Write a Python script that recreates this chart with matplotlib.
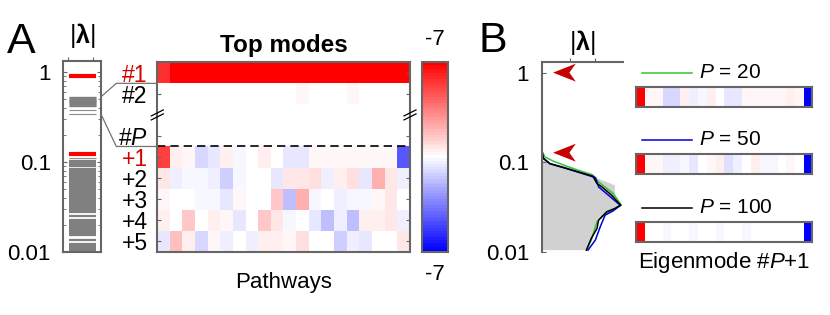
import numpy as np
import matplotlib
matplotlib.use("Agg")
import matplotlib.pyplot as plt
from matplotlib.colors import LinearSegmentedColormap
from matplotlib.lines import Line2D
from matplotlib.patches import Polygon

plt.rcParams['font.family'] = ['Liberation Sans', 'DejaVu Sans']
plt.rcParams['mathtext.fontset'] = 'custom'
plt.rcParams['mathtext.rm'] = 'Liberation Sans'
plt.rcParams['mathtext.it'] = 'Liberation Sans:italic'
plt.rcParams['mathtext.bf'] = 'Liberation Sans:bold'

# ---------------- data ----------------
# Panel A spectrum |lambda|
lam_red = [0.9, 0.123]
lam_cluster = [0.53, 0.515, 0.50, 0.49, 0.48, 0.47, 0.46, 0.45, 0.44, 0.43, 0.42]
lam_mid = [0.38, 0.34, 0.11]
lam_bulk = [0.102, 0.0984, 0.0946, 0.0910, 0.0832, 0.0800, 0.0769, 0.0740, 0.0711,
            0.0684, 0.0658, 0.0632, 0.0608, 0.0585, 0.0562, 0.0541, 0.0520, 0.0500,
            0.0481, 0.0462, 0.0445, 0.0428, 0.0411, 0.0395, 0.0380, 0.0366, 0.0352,
            0.0338, 0.0325, 0.0313, 0.0301, 0.0289, 0.0278, 0.0253, 0.0229, 0.0220,
            0.0212, 0.0204, 0.0196, 0.0188, 0.0181, 0.0174, 0.0167, 0.0161, 0.0155,
            0.0137, 0.0123, 0.0118, 0.0114, 0.0109, 0.0105]

# Panel A heatmap rows (normalised eigenvector entries, 20 pathways)
mode_1 = [0.80, 1, 1, 1, 1, 1, 1, 1, 1, 1, 1, 1, 1, 1, 1, 1, 1, 1, 1, 1]
mode_2 = [0.01, 0.0, 0.0, 0.01, 0.01, 0.0, 0.0, 0.01, 0.0, 0.0,
          0.01, 0.04, 0.0, 0.0, 0.01, 0.03, 0.0, 0.0, 0.01, 0.0]
mode_P = [0.01, 0.0, 0.0, 0.0, 0.01, 0.0, 0.0, 0.01, 0.0, 0.0,
          0.01, 0.0, 0.0, 0.01, 0.0, 0.0, 0.0, 0.01, 0.0, 0.01]
mode_p1 = [0.73, 0.05, 0.02, -0.15, -0.08, 0.06, -0.03, -0.01, 0.06, 0.0,
           -0.10, -0.08, 0.03, 0.03, 0.02, 0.02, 0.02, 0.02, 0.02, -0.65]
mode_p2 = [0.10, -0.06, -0.03, -0.02, -0.05, -0.18, -0.03, -0.01, 0.0, -0.08,
           0.10, 0.08, 0.12, -0.06, 0.05, 0.12, -0.08, 0.30, 0.10, -0.06]
mode_p3 = [0.02, -0.01, -0.01, -0.02, -0.04, -0.10, 0.04, -0.01, 0.0, 0.22,
           -0.25, 0.30, -0.04, -0.01, -0.07, -0.02, -0.02, 0.02, 0.08, 0.0]
mode_p4 = [0.07, 0.0, 0.22, 0.0, 0.07, 0.04, -0.08, -0.01, 0.22, 0.10,
           -0.04, 0.0, -0.08, -0.25, -0.06, -0.25, 0.05, 0.05, 0.08, -0.06]
mode_p5 = [-0.10, 0.25, 0.07, -0.15, 0.02, -0.05, 0.0, -0.06, 0.05, 0.05,
           0.04, 0.13, 0.0, 0.0, -0.20, -0.07, -0.10, 0.0, 0.0, 0.08]
row_labels = ['#1', '#2', '', '#$P$', '+1', '+2', '+3', '+4', '+5']
row_colors = ['#d40000', 'k', 'k', 'k', '#d40000', 'k', 'k', 'k', 'k']
cbar_labels = ['-7', '-7']

# Panel B: density of |lambda| for P = 20, 50, 100
curve20_x = [0, 0, 0.04, 0.14, 0.31, 0.63, 0.70, 0.88, 0.98, 0.84, 0.74, 0.68, 0.61, 0.55]
curve20_y = [1.33, 0.136, 0.1146, 0.1033, 0.0903, 0.0717, 0.0604, 0.0449, 0.0333,
             0.0281, 0.0247, 0.0217, 0.0136, 0.0105]
curve50_x = [0, 0, 0.02, 0.10, 0.27, 0.66, 0.70, 0.94, 0.97, 0.88, 0.78, 0.72, 0.66, 0.57]
curve50_y = [1.33, 0.136, 0.112, 0.0967, 0.0873, 0.0676, 0.0532, 0.0348, 0.0333,
             0.0288, 0.0258, 0.0191, 0.0136, 0.0105]
curve100_x = [0, 0, 0.02, 0.10, 0.27, 0.63, 0.68, 0.74, 0.86, 0.97, 0.90, 0.80, 0.70,
              0.68, 0.61, 0.55]
curve100_y = [1.33, 0.136, 0.110, 0.0967, 0.0873, 0.0699, 0.058, 0.0532, 0.043, 0.0333,
              0.0306, 0.0281, 0.0227, 0.0183, 0.0142, 0.0105]
null_x = [0, 0.225, 0.62, 0.68, 0.90, 0.90, 0.96, 0.865, 0.70, 0.62, 0.545, 0]
null_y = [0.105, 0.0926, 0.0755, 0.0664, 0.0555, 0.0378, 0.0333, 0.0293, 0.0239,
          0.0136, 0.0105, 0.0105]
arrow_vals = [1.0, 0.128]

# Eigenmode #P+1 for each P
strip_20 = [1.0, 0.03, 0.02, -0.15, -0.15, 0.05, -0.05, -0.02, 0.06, 0.0,
            -0.10, -0.08, 0.02, 0.03, 0.04, 0.02, 0.02, 0.05, 0.02, -1.0]
strip_50 = [1.0, 0.03, 0.02, -0.06, -0.06, -0.03, -0.08, 0.0, 0.03, 0.05,
            -0.12, -0.06, 0.0, 0.07, -0.03, -0.04, 0.0, 0.02, 0.0, -1.0]
strip_100 = [1.0, 0.0, 0.01, -0.04, 0.0, 0.01, -0.04, 0.0, 0.01, -0.03,
             0.0, 0.01, -0.03, 0.0, 0.0, 0.01, 0.0, 0.01, 0.0, -1.0]
P_values = [20, 50, 100]
P_colors = ['#33c433', '#0000dd', 'k']

# ---------------- figure ----------------
W, H = 830, 315
fig = plt.figure(figsize=(W / 100, H / 100), dpi=100)


def ax_px(x0, y0, x1, y1):
    return fig.add_axes([x0 / W, 1 - y1 / H, (x1 - x0) / W, (y1 - y0) / H])


def to_fig(ax, x, y, dx=0, dy=0, trans=None):
    t = trans if trans is not None else ax.transData
    px, py = t.transform((x, y))
    return fig.transFigure.inverted().transform((px + dx, py + dy))


FRAME = '0.4'
FS = 16
YMAX = 10 ** 0.122
cmap = LinearSegmentedColormap.from_list('bwr2', [(0, 0, 1), (1, 1, 1), (1, 0, 0)], N=65)
cmap.set_bad('white')


def style_frame(ax, lw=1.5):
    for s in ax.spines.values():
        s.set_color(FRAME)
        s.set_linewidth(lw)


# --- Panel A: spectrum ---
axs = ax_px(63.3, 61, 101, 252)
axs.set_yscale('log')
axs.set_xlim(0, 1)
axs.set_ylim(0.01, YMAX)
axs.hlines(lam_bulk, 0.15, 0.86, color='0.5', lw=1.6)
axs.hlines(lam_cluster, 0.15, 0.86, color='0.5', lw=1.0)
axs.hlines(lam_mid, 0.15, 0.86, color='0.55', lw=0.8)
axs.hlines(lam_red, 0.15, 0.86, color='red', lw=3.0)
axs.set_yticks([1, 0.1, 0.01])
axs.set_yticklabels(['1', '0.1', '0.01'])
axs.tick_params(axis='y', which='both', direction='in', left=True, right=True,
                labelsize=FS, pad=9, color=FRAME)
axs.tick_params(axis='y', which='major', length=3)
axs.tick_params(axis='y', which='minor', length=2)
axs.set_xticks([0.13, 0.8])
axs.tick_params(axis='x', bottom=False, top=True, labelbottom=False, direction='out',
                length=3, color=FRAME)
style_frame(axs)
axs.text(0.5, 1.06, r'$|\mathbf{\lambda}|$', transform=axs.transAxes, ha='center',
         va='bottom', fontsize=18)
fig.text(7 / W, 1 - 53 / H, 'A', fontsize=31, va='baseline', ha='left')

# --- Panel A: heatmap ---
axh = ax_px(157.3, 62.3, 410, 251.7)
heat = np.array([mode_1, mode_2, [np.nan] * 20, mode_P, mode_p1, mode_p2,
                 mode_p3, mode_p4, mode_p5], dtype=float)
im = axh.imshow(heat, cmap=cmap, vmin=-1, vmax=1, aspect='auto',
                interpolation='nearest')
tick_rows = [i for i, l in enumerate(row_labels) if l]
axh.set_yticks(tick_rows)
axh.set_yticklabels([row_labels[i] for i in tick_rows], fontsize=FS + 0.5)
for lab, i in zip(axh.get_yticklabels(), tick_rows):
    lab.set_color(row_colors[i])
axh.set_xticks([])
axh.tick_params(axis='y', direction='in', left=True, right=True, length=3,
                pad=7, color=FRAME)
style_frame(axh)
axh.axhline(3.5, color='k', lw=1.2, ls=(0, (5, 3)))
axh.text(0.5, 1 + 10 / 189.4, 'Top modes', transform=axh.transAxes, ha='center',
         va='baseline', fontsize=17.5, fontweight='bold')
axh.text(0.5, -36 / 189.4, 'Pathways', transform=axh.transAxes, ha='center',
         va='baseline', fontsize=FS)

# break marks
for xe in (-0.5, 19.5):
    for off in (-2.0, 2.0):
        p0 = to_fig(axh, xe, 2, -6, off - 3)
        p1 = to_fig(axh, xe, 2, 6, off + 3)
        fig.lines.append(Line2D([p0[0], p1[0]], [p0[1], p1[1]], color='k',
                                lw=0.9, transform=fig.transFigure))

# connectors between spectrum and heatmap
blend = matplotlib.transforms.blended_transform_factory(axs.transAxes, axs.transData)
for lam_v, row_edge in ((0.53, 0.5), (0.34, 3.5)):
    a = to_fig(axs, 1.0, lam_v, trans=blend)
    c = to_fig(axh, -0.5, row_edge)
    b = to_fig(axh, -0.5, row_edge, -41, 0)
    fig.lines.append(Line2D([a[0], b[0], c[0]], [a[1], c[1], c[1]], color='0.45',
                            lw=0.9, transform=fig.transFigure))

# colorbar
cax = ax_px(421.7, 61.7, 447.7, 251.7)
cb = fig.colorbar(im, cax=cax, ticks=[])
cb.outline.set_edgecolor(FRAME)
cb.outline.set_linewidth(1.5)
cax.text(0.5, 1 + 22 / 190, cbar_labels[0], transform=cax.transAxes, ha='center',
         va='center', fontsize=FS)
cax.text(0.5, -23 / 190, cbar_labels[1], transform=cax.transAxes, ha='center',
         va='center', fontsize=FS)

# --- Panel B: density ---
axb = ax_px(541.7, 61.7, 623, 252)
axb.set_yscale('log')
axb.set_xlim(0, 1)
axb.set_ylim(0.01, YMAX)
axb.fill(null_x, null_y, color='0.82', lw=0)
axb.plot(curve20_x, curve20_y, color=P_colors[0], lw=1.1)
axb.plot(curve50_x, curve50_y, color=P_colors[1], lw=1.1)
axb.plot(curve100_x, curve100_y, color=P_colors[2], lw=1.1)
for v in arrow_vals:
    axb.add_patch(Polygon([(0.14, v), (0.42, v * 1.26), (0.34, v), (0.42, v / 1.26)],
                          closed=True, color='#c80000', lw=0, clip_on=False))
for s in ('right', 'bottom'):
    axb.spines[s].set_visible(False)
style_frame(axb)
axb.set_yticks([1, 0.1, 0.01])
axb.set_yticklabels(['1', '0.1', '0.01'])
axb.tick_params(axis='y', which='major', direction='in', length=3, labelsize=FS,
                pad=9, color=FRAME)
axb.tick_params(axis='y', which='minor', left=False)
axb.set_xticks([0.35, 0.66])
axb.tick_params(axis='x', bottom=False, top=True, labelbottom=False, direction='out',
                length=3, color=FRAME)
axb.text(0.5, 1 + 5 / 190, r'$|\mathbf{\lambda}|$', transform=axb.transAxes,
         ha='center', va='bottom', fontsize=18)
fig.text(478 / W, 1 - 52 / H, 'B', fontsize=31, va='baseline', ha='left')

# --- Panel B: eigenmode strips ---
strip_tops = [87, 154, 222]
for data, top, P, col in zip([strip_20, strip_50, strip_100], strip_tops, P_values, P_colors):
    ax = ax_px(635.7, top, 812, top + 19.5)
    ax.imshow(np.array([data]), cmap=cmap, vmin=-1, vmax=1, aspect='auto',
              interpolation='nearest')
    ax.set_xticks([])
    ax.set_yticks([])
    style_frame(ax)
    ly = 1 - (top - 14.5) / H
    fig.lines.append(Line2D([641.7 / W, 691.7 / W], [ly, ly], color=col, lw=1.1,
                            transform=fig.transFigure))
    fig.text(699 / W, ly, '$P$ = %d' % P, fontsize=15, va='center', ha='left')

fig.text(724 / W, 1 - 268 / H, 'Eigenmode #$P$+1', fontsize=FS, ha='center',
         va='baseline')

fig.savefig('out.png', dpi=100)
